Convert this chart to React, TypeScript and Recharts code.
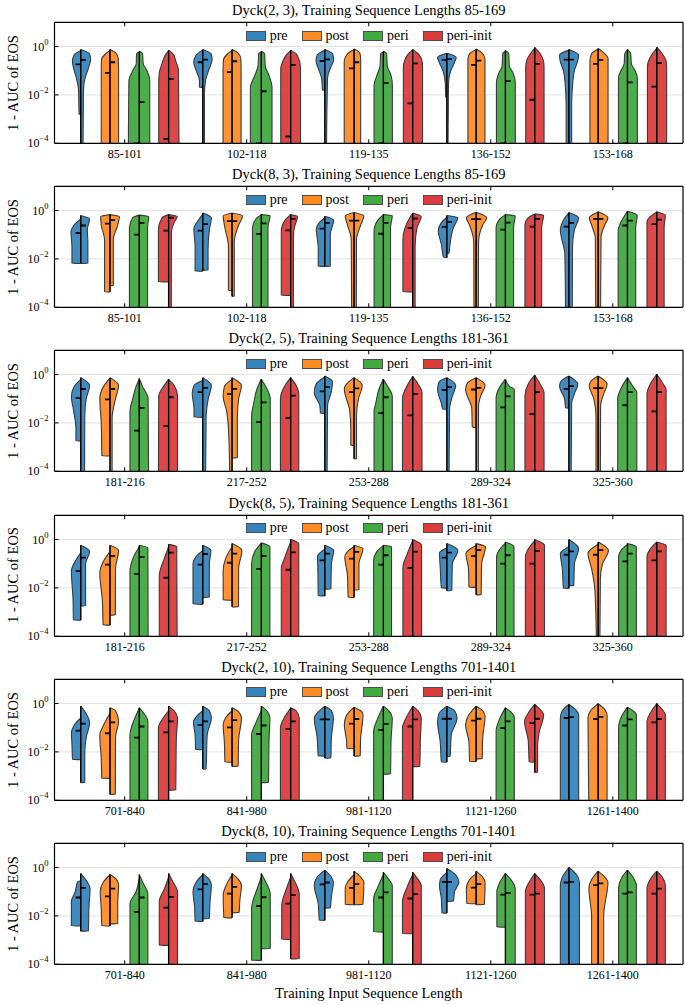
import React from "react";
import { ComposedChart, Area, Line, Scatter, XAxis, YAxis, CartesianGrid } from "recharts";

const methods = ["pre", "post", "peri", "peri-init"];
const methodColors = ["#1f77b4", "#ff7f0e", "#2ca02c", "#d62728"];

const lengths3 = ["85-101", "102-118", "119-135", "136-152", "153-168"];
const lengths5 = ["181-216", "217-252", "253-288", "289-324", "325-360"];
const lengths10 = ["701-840", "841-980", "981-1120", "1121-1260", "1261-1400"];

const yTicks = [1e-4, 1e-2, 1];
const groupTicks = [0, 1, 2, 3, 4];

// half violins: [log10(1 - AUC), density (0-10)] pairs from top to bottom,
// ordered by length bucket, then pre / post / peri / peri-init
const dyck23Left = [
  [-0.17, 0, -0.35, 6, -0.6, 7.6, -0.9, 6.5, -1.3, 4, -1.8, 2, -2.8, 1.5],
  [-0.16, 0, -0.3, 4, -0.55, 7.8, -1, 8, -4.5, 8],
  [-0.23, 0, -0.3, 2.5, -0.7, 2.8, -1.0, 6, -1.4, 9.5, -4.5, 10],
  [-0.17, 0, -0.35, 3, -0.7, 6, -1.1, 8.5, -1.5, 9, -4.5, 9],
  [-0.15, 0, -0.35, 6, -0.65, 8.2, -1.0, 6, -1.4, 3, -1.68, 3],
  [-0.16, 0, -0.3, 4, -0.55, 7.8, -1, 8.2, -4.5, 8.2],
  [-0.23, 0, -0.3, 2.5, -0.8, 3, -1.2, 6, -1.7, 10, -4.5, 10],
  [-0.17, 0, -0.35, 4, -0.6, 7, -0.9, 9, -4.5, 9],
  [-0.15, 0, -0.35, 7, -0.6, 8, -0.9, 6, -1.3, 3, -1.8, 2],
  [-0.12, 0, -0.3, 6, -0.6, 9, -1.0, 9, -4.5, 9],
  [-0.23, 0, -0.3, 2.5, -0.8, 3, -1.2, 6, -1.6, 8.5, -4.5, 8.5],
  [-0.14, 0, -0.3, 4, -0.6, 7.5, -0.85, 8.5, -4.5, 8.5],
  [-0.28, 0, -0.45, 8.5, -0.65, 7, -1.0, 3.5, -1.5, 1.5, -2.1, 1],
  [-0.12, 0, -0.3, 6, -0.55, 7.5, -1, 7.5, -4.5, 7.5],
  [-0.2, 0, -0.3, 2.5, -0.8, 3, -1.1, 6, -1.5, 8.2, -4.5, 8.2],
  [-0.08, 0, -0.3, 4, -0.6, 7.5, -0.85, 8.2, -4.5, 8.2],
  [-0.15, 0, -0.35, 8.5, -0.6, 8, -1.0, 5, -1.5, 3.5, -2.5, 2.5, -4.5, 2.5],
  [-0.1, 0, -0.3, 6, -0.6, 7.5, -1, 7.5, -4.5, 7.5],
  [-0.15, 0, -0.3, 2.5, -0.7, 3, -1.0, 6, -1.3, 8.2, -4.5, 8.2],
  [-0.06, 0, -0.3, 4, -0.6, 7.5, -0.85, 8.5, -4.5, 8.5],
];
const dyck23Right = [
  [-0.12, 0, -0.3, 8, -0.55, 9, -0.9, 7, -1.3, 4, -1.8, 2.5, -4.5, 2],
  [-0.12, 0, -0.25, 5, -0.5, 7.5, -1, 7.8, -4.5, 7.8],
  [-0.2, 0, -0.3, 3, -0.7, 3.5, -1.0, 7, -1.4, 9.5, -4.5, 9.5],
  [-0.15, 0, -0.3, 4, -0.6, 6.5, -1.0, 9, -4.5, 9.5],
  [-0.12, 0, -0.3, 7.5, -0.55, 8.5, -0.9, 6, -1.4, 2.5, -2, 1.5, -4.5, 1.5],
  [-0.12, 0, -0.25, 5, -0.5, 8, -1, 8.2, -4.5, 8.2],
  [-0.2, 0, -0.3, 3, -0.8, 3.5, -1.2, 7, -1.7, 9.7, -4.5, 9.7],
  [-0.15, 0, -0.3, 5, -0.6, 8, -0.9, 9, -4.5, 9],
  [-0.12, 0, -0.3, 7, -0.55, 8, -0.9, 5, -1.3, 2.5, -4.5, 1.5],
  [-0.1, 0, -0.25, 5, -0.5, 6, -1, 6, -4.5, 6],
  [-0.2, 0, -0.3, 3, -0.8, 3.5, -1.2, 7, -1.6, 8.2, -4.5, 8.2],
  [-0.12, 0, -0.3, 5, -0.6, 8.5, -0.85, 9, -4.5, 9],
  [-0.28, 0, -0.45, 8.5, -0.65, 7, -1.0, 3.5, -1.5, 1.5, -4.5, 1],
  [-0.1, 0, -0.25, 5, -0.5, 8, -1, 8, -4.5, 8],
  [-0.17, 0, -0.3, 3, -0.8, 3.5, -1.1, 7, -1.5, 9, -4.5, 9],
  [-0.04, 0, -0.3, 5, -0.6, 8, -0.85, 8.5, -4.5, 8.5],
  [-0.12, 0, -0.35, 8.8, -0.6, 8, -1.0, 5, -1.5, 3.5, -2.5, 2.5, -4.5, 2.5],
  [-0.08, 0, -0.25, 5, -0.5, 9, -1, 9, -4.5, 9],
  [-0.12, 0, -0.3, 3, -0.7, 3.5, -1.0, 7, -1.3, 9, -4.5, 9],
  [-0.03, 0, -0.3, 5, -0.6, 8.5, -0.85, 9, -4.5, 9],
];
const dyck23MedLeft = [-0.74, -1.09, -4.0, -3.82, -0.65, -1.06, -4.0, -3.72, -0.6, -0.9, -4.0, -2.35, -0.55, -0.76, -4.0, -2.2, -0.54, -0.72, -4.0, -1.66];
const dyck23MedRight = [-0.55, -0.65, -2.3, -1.34, -0.54, -0.61, -1.85, -0.76, -0.53, -0.65, -1.5, -0.7, -0.52, -0.58, -1.43, -0.72, -0.54, -0.55, -1.48, -0.69];

const dyck83Left = [
  [-0.35, 0, -0.6, 6, -0.9, 8.9, -1.5, 8, -2.18, 8],
  [-0.17, 0, -0.25, 8.5, -0.6, 8, -1.2, 5, -3.36, 5],
  [-0.19, 0, -0.3, 6, -0.7, 9, -4.5, 9],
  [-0.17, 0, -0.3, 6, -0.8, 9.3, -2.94, 9.3],
  [-0.15, 0, -0.4, 4, -0.75, 8.1, -1.5, 7, -2.5, 7],
  [-0.1, 0, -0.22, 8.1, -0.6, 7, -1.5, 3.3, -3.3, 3.3],
  [-0.17, 0, -0.35, 5, -0.7, 8.1, -4.5, 8.1],
  [-0.17, 0, -0.4, 5, -0.85, 8.5, -3.5, 8.5],
  [-0.3, 0, -0.5, 5, -0.8, 7.8, -1.5, 6, -2.3, 6],
  [-0.08, 0, -0.22, 8.1, -0.6, 6, -1.2, 2.6, -4.5, 2.2],
  [-0.17, 0, -0.4, 5, -0.85, 8.5, -4.5, 8.5],
  [-0.1, 0, -0.5, 5, -1.2, 8.9, -3.36, 8.9],
  [-0.28, 0, -0.5, 5, -0.85, 7.8, -1.4, 5, -1.94, 3],
  [-0.07, 0, -0.3, 8.9, -0.6, 6, -1.3, 2.2, -4.5, 2],
  [-0.17, 0, -0.35, 5, -0.72, 8.5, -4.5, 8.5],
  [-0.14, 0, -0.3, 6, -0.58, 8.9, -4.5, 8.9],
  [-0.1, 0, -0.4, 5, -0.8, 7.8, -1.8, 3.7, -4.5, 3],
  [-0.06, 0, -0.3, 8.1, -0.6, 6, -1.15, 2.6, -4.5, 2.2],
  [-0.03, 0, -0.4, 5, -0.85, 8.5, -4.5, 8.5],
  [-0.06, 0, -0.3, 7, -0.45, 8.9, -4.5, 8.9],
];
const dyck83Right = [
  [-0.21, 0, -0.35, 8, -0.8, 6, -1.3, 6.5, -2.18, 6.5],
  [-0.17, 0, -0.25, 8.5, -0.6, 7, -1.2, 3, -3.1, 3],
  [-0.19, 0, -0.25, 8.5, -0.7, 7.5, -4.5, 7.5],
  [-0.17, 0, -0.25, 7.8, -0.5, 5, -0.9, 2.6, -4.5, 2.4],
  [-0.1, 0, -0.3, 7.8, -0.8, 6, -1.6, 4.8, -2.46, 4.8],
  [-0.1, 0, -0.22, 9.6, -0.6, 6, -1.3, 2, -3.54, 2],
  [-0.17, 0, -0.22, 8, -0.7, 6, -4.5, 6],
  [-0.17, 0, -0.25, 6.3, -0.6, 4, -1.0, 2.6, -4.5, 2.5],
  [-0.24, 0, -0.4, 8.1, -1.0, 5, -2.3, 5],
  [-0.08, 0, -0.22, 8.9, -0.6, 6, -1.2, 2.2, -4.5, 2],
  [-0.17, 0, -0.22, 8.1, -0.7, 6.5, -4.5, 6.5],
  [-0.1, 0, -0.25, 7.8, -0.7, 4, -1.5, 2.2, -4.5, 2.2],
  [-0.21, 0, -0.3, 10, -0.7, 6, -1.5, 2.6, -1.76, 2],
  [-0.07, 0, -0.3, 9.6, -0.6, 6, -1.3, 2.2, -4.5, 2],
  [-0.17, 0, -0.22, 8.9, -0.7, 7.4, -4.5, 7.4],
  [-0.14, 0, -0.2, 8.1, -0.7, 6.3, -4.5, 6.3],
  [-0.08, 0, -0.3, 8.9, -0.8, 5, -1.5, 3.3, -4.5, 3],
  [-0.05, 0, -0.3, 8.9, -0.6, 6, -1.1, 2.6, -4.5, 2.2],
  [-0.03, 0, -0.2, 8.9, -0.7, 7.5, -4.5, 7.5],
  [-0.05, 0, -0.2, 7.8, -0.7, 6.7, -4.5, 6.7],
];
const dyck83MedLeft = [-0.93, -0.54, -1.0, -0.83, -0.83, -0.44, -0.97, -0.82, -0.75, -0.42, -0.96, -0.72, -0.68, -0.36, -0.79, -0.67, -0.67, -0.35, -0.62, -0.56];
const dyck83MedRight = [-0.62, -0.4, -0.51, -0.3, -0.56, -0.44, -0.53, -0.35, -0.51, -0.42, -0.51, -0.33, -0.47, -0.36, -0.5, -0.35, -0.51, -0.35, -0.42, -0.38];

const dyck25Left = [
  [-0.2, 0, -0.5, 6, -0.9, 8.5, -1.5, 6.5, -2.2, 4.4, -2.74, 4.4],
  [-0.15, 0, -0.5, 6, -1.0, 9.3, -2.0, 8, -3.36, 7.4],
  [-0.2, 0, -0.5, 3, -1.0, 6, -1.5, 8.5, -4.5, 8.5],
  [-0.2, 0, -0.45, 4, -0.9, 9, -4.5, 9.3],
  [-0.25, 0, -0.45, 8, -0.8, 9.6, -1.4, 8, -1.76, 8],
  [-0.2, 0, -0.5, 7, -0.9, 8.1, -1.5, 5, -2.5, 3, -4.5, 2],
  [-0.2, 0, -0.6, 4, -1.2, 7, -1.7, 8.9, -4.5, 8.9],
  [-0.13, 0, -0.45, 5, -1.0, 9.3, -4.5, 9.3],
  [-0.1, 0, -0.4, 8, -0.75, 9.6, -1.3, 4.5, -1.6, 4],
  [-0.13, 0, -0.4, 7, -0.6, 8.9, -1.5, 4, -2.3, 3, -2.92, 3],
  [-0.2, 0, -0.6, 4, -1.2, 7, -1.5, 8.5, -4.5, 8.5],
  [-0.08, 0, -0.45, 5, -1.0, 9.3, -4.5, 9.3],
  [-0.13, 0, -0.3, 7, -0.62, 8.5, -1.2, 5, -1.43, 3.7],
  [-0.13, 0, -0.35, 8, -0.62, 9.6, -1.4, 4, -2.18, 3.5],
  [-0.2, 0, -0.5, 5, -1.0, 8.5, -4.5, 8.5],
  [-0.03, 0, -0.4, 6, -0.9, 8.9, -4.5, 8.9],
  [-0.06, 0, -0.3, 7.5, -0.48, 8.5, -1.0, 4, -1.38, 3],
  [-0.06, 0, -0.3, 7, -0.48, 8.1, -1.0, 4, -1.75, 2, -4.5, 2],
  [-0.13, 0, -0.5, 5, -1.0, 8.9, -4.5, 8.9],
  [0.01, 0, -0.4, 6, -0.8, 8.9, -4.5, 8.9],
];
const dyck25Right = [
  [-0.13, 0, -0.45, 8.1, -1.0, 5, -1.7, 3.7, -4.5, 3.5],
  [-0.13, 0, -0.45, 7.8, -1.0, 5, -1.8, 1.9, -4.5, 1.9],
  [-0.17, 0, -0.5, 3, -1.0, 8, -4.5, 8.5],
  [-0.2, 0, -0.45, 5, -0.9, 8.1, -4.5, 8.1],
  [-0.13, 0, -0.45, 7.8, -1.0, 5, -1.8, 3, -4.5, 2.5],
  [-0.13, 0, -0.45, 8.5, -1.0, 6, -1.8, 4.8, -3.44, 4.8],
  [-0.2, 0, -0.5, 4, -1.0, 8.1, -4.5, 8.1],
  [-0.13, 0, -0.45, 5, -0.8, 7.4, -4.5, 7.4],
  [-0.06, 0, -0.3, 7, -0.7, 6, -1.3, 2.5, -4.5, 2],
  [-0.13, 0, -0.45, 7.4, -1.0, 4, -1.7, 2.2, -3.48, 2.2],
  [-0.2, 0, -0.5, 4, -0.9, 8.1, -4.5, 8.1],
  [-0.08, 0, -0.4, 5, -0.75, 8.5, -4.5, 8.5],
  [-0.13, 0, -0.45, 8.1, -0.9, 5, -1.4, 2.5, -4.5, 2],
  [-0.13, 0, -0.45, 8.1, -0.9, 4, -1.3, 2.2, -4.5, 2],
  [-0.2, 0, -0.5, 4, -0.62, 8.1, -4.5, 8.1],
  [-0.03, 0, -0.4, 5, -0.75, 8.5, -4.5, 8.5],
  [-0.06, 0, -0.4, 8.1, -0.8, 5, -1.2, 2.5, -4.5, 2],
  [-0.06, 0, -0.4, 8.1, -0.8, 5, -1.3, 2.2, -4.5, 2],
  [-0.13, 0, -0.5, 5, -0.75, 8.5, -4.5, 8.5],
  [0.01, 0, -0.4, 6, -0.62, 8.5, -4.5, 8.5],
];
const dyck25MedLeft = [-0.98, -1.03, -2.32, -2.13, -0.73, -0.81, -1.97, -1.8, -0.7, -0.73, -1.6, -1.69, -0.64, -0.62, -1.36, -1.64, -0.59, -0.56, -1.27, -1.52];
const dyck25MedRight = [-0.6, -0.6, -1.38, -0.94, -0.55, -0.59, -1.15, -0.87, -0.52, -0.57, -0.94, -0.8, -0.52, -0.55, -0.9, -0.73, -0.48, -0.56, -0.73, -0.73];

const dyck85Left = [
  [-0.55, 0, -0.9, 5, -1.3, 8.5, -2.5, 7, -3.33, 6.7],
  [-0.5, 0, -0.9, 6, -1.4, 9.3, -2.5, 7, -3.53, 6.3],
  [-0.3, 0, -0.7, 5, -1.3, 8.5, -4.5, 8.5],
  [-0.3, 0, -0.8, 4, -1.5, 8.5, -4.5, 8.5],
  [-0.45, 0, -0.7, 6, -1.0, 8.9, -2.67, 8.9],
  [-0.3, 0, -0.8, 6, -1.3, 8.1, -2.5, 8.1],
  [-0.15, 0, -0.5, 6, -1.0, 8.9, -4.5, 8.9],
  [-0.1, 0, -0.7, 5, -1.2, 8.5, -4.5, 8.5],
  [-0.4, 0, -0.7, 6.7, -1.3, 6.3, -2.32, 6],
  [-0.3, 0, -0.5, 6, -0.72, 8.5, -1.5, 6, -2.39, 5.5],
  [-0.25, 0, -0.5, 6, -0.86, 8.9, -4.5, 8.9],
  [-0.05, 0, -0.6, 5, -1.15, 8.9, -4.5, 8.9],
  [-0.35, 0, -0.55, 6.7, -1.2, 6, -2.0, 5],
  [-0.25, 0, -0.58, 9.3, -1.2, 7, -1.97, 6.5],
  [-0.15, 0, -0.4, 5, -0.72, 8.1, -4.5, 8.1],
  [-0.05, 0, -0.4, 6, -0.72, 8.5, -4.5, 8.5],
  [-0.3, 0, -0.58, 7.8, -1.2, 6, -2.01, 5],
  [-0.2, 0, -0.58, 9.3, -1.2, 6, -2.1, 3, -4.5, 1.5],
  [-0.2, 0, -0.4, 5, -0.72, 8.1, -4.5, 8.1],
  [-0.1, 0, -0.4, 6, -0.72, 8.9, -4.5, 8.9],
];
const dyck85Right = [
  [-0.24, 0, -0.5, 8.1, -1.0, 4.4, -2.74, 4.4],
  [-0.24, 0, -0.45, 7.8, -1.2, 5, -3.12, 4.8],
  [-0.24, 0, -0.35, 7.8, -4.5, 8],
  [-0.2, 0, -0.3, 7.4, -4.5, 7.8],
  [-0.24, 0, -0.45, 7.4, -1.0, 6, -2.39, 5.9],
  [-0.17, 0, -0.45, 8.9, -1.2, 6, -2.78, 5.9],
  [-0.14, 0, -0.3, 7.8, -4.5, 7.8],
  [0, 0, -0.17, 7.4, -4.5, 7.4],
  [-0.24, 0, -0.45, 8.1, -1.0, 6, -2.04, 5.5],
  [-0.24, 0, -0.38, 8.1, -1.0, 4.4, -2.08, 4.4],
  [-0.24, 0, -0.3, 7.4, -4.5, 7.4],
  [0, 0, -0.24, 8.1, -4.5, 8.1],
  [-0.17, 0, -0.45, 10, -1.0, 5, -2.11, 4.5],
  [-0.17, 0, -0.3, 8.5, -1.0, 5, -2.28, 4.5],
  [-0.1, 0, -0.3, 7.8, -4.5, 7.8],
  [0, 0, -0.24, 8.9, -4.5, 8.9],
  [0, 0, -0.38, 8.9, -1.0, 5, -1.9, 4.5],
  [-0.1, 0, -0.45, 9.3, -1.0, 4, -1.6, 2, -4.5, 1.5],
  [-0.17, 0, -0.3, 8.1, -4.5, 8.1],
  [-0.1, 0, -0.24, 8.5, -4.5, 8.5],
];
const dyck85MedLeft = [-1.31, -1.04, -1.42, -1.58, -1.04, -0.96, -1.21, -1.25, -0.86, -0.79, -1.04, -1.17, -0.75, -0.69, -1.0, -1.0, -0.63, -0.63, -0.9, -0.86];
const dyck85MedRight = [-0.75, -0.68, -0.72, -0.54, -0.6, -0.58, -0.68, -0.53, -0.58, -0.51, -0.65, -0.5, -0.54, -0.44, -0.65, -0.47, -0.49, -0.44, -0.58, -0.49];

const dyck210Left = [
  [-0.6, 0, -0.9, 6, -1.2, 8.5, -1.7, 8, -2.31, 7.5],
  [-0.4, 0, -0.9, 6, -1.3, 9.3, -2.3, 8, -3.09, 7.5],
  [-0.2, 0, -0.6, 4, -1.3, 8.5, -4.5, 8.5],
  [-0.3, 0, -0.6, 5, -1.0, 9.3, -4.5, 9.3],
  [-0.3, 0, -0.55, 6, -0.75, 8.5, -1.3, 7, -1.9, 6.5],
  [-0.3, 0, -0.6, 6, -0.88, 8.1, -1.6, 7, -2.42, 6.5],
  [-0.3, 0, -0.8, 5, -1.3, 8.9, -4.5, 8.9],
  [-0.2, 0, -0.6, 6, -1.0, 9.3, -4.5, 9.3],
  [-0.11, 0, -0.4, 7, -0.6, 9.6, -1.4, 7, -2.17, 6],
  [-0.15, 0, -0.5, 7, -0.88, 8.9, -1.5, 7, -1.86, 6.5],
  [-0.11, 0, -0.6, 5, -1.15, 8.9, -4.5, 8.9],
  [-0.11, 0, -0.6, 6, -1.0, 9.3, -4.5, 9.3],
  [-0.11, 0, -0.4, 7, -0.74, 8.5, -1.6, 6, -2.42, 5],
  [-0.11, 0, -0.5, 7, -0.88, 9.6, -1.6, 6.5, -2.39, 6],
  [-0.18, 0, -0.6, 5, -1.15, 8.5, -4.5, 8.5],
  [-0.04, 0, -0.4, 6, -0.74, 9.3, -1.5, 6, -2.42, 5],
  [-0.04, 0, -0.3, 6, -0.6, 7.8, -4.5, 7.8],
  [-0.01, 0, -0.3, 7, -0.6, 9.3, -4.5, 8.5],
  [-0.15, 0, -0.5, 5, -1.02, 8.1, -4.5, 8.1],
  [0, 0, -0.4, 6, -0.74, 8.9, -4.5, 8.9],
];
const dyck210Right = [
  [-0.11, 0, -0.35, 4, -0.8, 8.1, -1.4, 5, -2.0, 3.7, -3.26, 3.7],
  [-0.18, 0, -0.3, 5, -0.74, 7.8, -1.4, 5, -3.75, 4.8],
  [-0.18, 0, -0.4, 4, -0.74, 7.8, -4.5, 7.8],
  [-0.11, 0, -0.3, 5, -0.6, 8.1, -1.5, 7, -3.57, 6.5],
  [-0.11, 0, -0.3, 6, -0.6, 7.8, -1.3, 4, -2.7, 3],
  [-0.18, 0, -0.35, 6, -0.6, 8.5, -1.5, 6, -2.59, 5.5],
  [-0.11, 0, -0.3, 5, -0.6, 7.8, -1.5, 7, -3.26, 6.5],
  [-0.18, 0, -0.3, 5, -0.6, 7.8, -4.5, 7.8],
  [-0.11, 0, -0.3, 6, -0.6, 7.8, -1.4, 6, -2.25, 5.5],
  [-0.15, 0, -0.3, 6, -0.46, 8.1, -1.4, 6, -2.17, 5.5],
  [-0.11, 0, -0.3, 5, -0.6, 8.1, -1.5, 7, -2.91, 6.5],
  [-0.11, 0, -0.3, 5, -0.6, 7.8, -1.5, 7, -2.6, 6.5],
  [-0.11, 0, -0.3, 7, -0.6, 9.3, -1.3, 4, -2.18, 3],
  [-0.11, 0, -0.3, 6, -0.53, 8.1, -1.4, 6, -2.28, 5.5],
  [-0.18, 0, -0.35, 5, -0.6, 8.1, -4.5, 8.1],
  [-0.04, 0, -0.3, 6, -0.46, 8.1, -1.2, 4, -1.8, 2.6, -2.84, 2.6],
  [-0.04, 0, -0.25, 6, -0.46, 8.9, -4.5, 8.9],
  [-0.01, 0, -0.25, 6, -0.46, 8.1, -4.5, 8.1],
  [-0.15, 0, -0.3, 5, -0.46, 8.1, -4.5, 8.1],
  [0, 0, -0.25, 5, -0.46, 7.8, -4.5, 7.8],
];
const dyck210MedLeft = [-1.12, -1.23, -1.41, -1.19, -0.88, -0.99, -1.26, -1.06, -0.66, -0.83, -1.09, -0.95, -0.63, -0.71, -1.02, -0.81, -0.6, -0.64, -0.91, -0.78];
const dyck210MedRight = [-0.83, -0.78, -0.95, -0.74, -0.74, -0.69, -0.91, -0.74, -0.66, -0.64, -0.84, -0.66, -0.63, -0.63, -0.74, -0.63, -0.56, -0.55, -0.66, -0.64];

const dyck810Left = [
  [-0.55, 0, -0.6, 3, -1.0, 5, -1.4, 8.5, -2.41, 8.5],
  [-0.3, 0, -0.6, 6, -1.0, 8.9, -1.7, 8, -2.41, 7.5],
  [-0.45, 0, -1.0, 3, -1.5, 8.5, -4.5, 8.5],
  [-0.4, 0, -0.9, 4, -1.4, 8.5, -3.21, 8.5],
  [-0.3, 0, -0.6, 6, -1.0, 8.9, -1.6, 7.5, -2.22, 7],
  [-0.3, 0, -0.7, 5, -1.15, 8.1, -2.07, 7.5],
  [-0.4, 0, -0.9, 4, -1.7, 8.9, -3.83, 8.9],
  [-0.4, 0, -0.9, 4, -1.56, 8.1, -2.97, 8.1],
  [-0.11, 0, -0.4, 7, -0.73, 9.6, -1.5, 6, -2.18, 5],
  [-0.3, 0, -0.6, 6, -0.87, 8.1, -1.53, 8],
  [-0.3, 0, -0.8, 5, -1.28, 8.9, -2.66, 8.9],
  [-0.3, 0, -0.8, 5, -1.42, 9.3, -2.73, 9.3],
  [-0.2, 0, -0.5, 6, -0.73, 6.7, -1.3, 5, -1.88, 4.5],
  [-0.25, 0, -0.5, 6, -0.87, 8.9, -1.49, 8.5],
  [-0.25, 0, -0.6, 5, -1.0, 7.8, -2.46, 7.8],
  [-0.25, 0, -0.6, 5, -1.0, 8.5, -4.5, 8.5],
  [0, 0, -0.4, 6, -0.73, 7.8, -4.5, 7.8],
  [-0.15, 0, -0.5, 6, -0.87, 8.5, -2, 6, -4.5, 6],
  [-0.11, 0, -0.4, 5, -0.87, 8.1, -4.5, 8.1],
  [-0.15, 0, -0.5, 6, -0.87, 8.9, -4.5, 8.9],
];
const dyck810Right = [
  [-0.25, 0, -0.6, 6, -0.87, 8.5, -1.6, 7.5, -2.62, 7],
  [-0.29, 0, -0.5, 6, -0.73, 7.8, -1.5, 7, -2.32, 7],
  [-0.29, 0, -0.6, 3, -1.1, 7.8, -4.5, 7.8],
  [-0.25, 0, -0.6, 4, -1.0, 8.1, -4.5, 8.1],
  [-0.25, 0, -0.5, 6, -0.73, 7.8, -1.5, 6.5, -2.11, 6],
  [-0.25, 0, -0.5, 6, -0.73, 8.5, -1.4, 7, -1.86, 6.5],
  [-0.25, 0, -0.6, 4, -1.1, 8.1, -3.35, 8.1],
  [-0.25, 0, -0.6, 4, -1.1, 7.8, -3.77, 7.8],
  [-0.11, 0, -0.4, 6, -0.6, 7.8, -1.2, 6, -1.67, 5],
  [-0.15, 0, -0.4, 6, -0.6, 8.9, -1.53, 8],
  [-0.2, 0, -0.5, 5, -0.73, 8.1, -4.5, 8.1],
  [-0.2, 0, -0.5, 5, -0.73, 7.8, -4.5, 7.8],
  [-0.04, 0, -0.3, 8, -0.6, 11, -1.0, 7, -1.39, 6],
  [-0.15, 0, -0.4, 6, -0.6, 8.1, -1.53, 7.5],
  [-0.25, 0, -0.5, 5, -0.87, 8.9, -4.5, 8.9],
  [-0.25, 0, -0.5, 5, -0.87, 8.9, -4.5, 8.9],
  [0, 0, -0.3, 7, -0.6, 9.6, -4.5, 9.6],
  [-0.15, 0, -0.4, 6, -0.6, 8.9, -2, 5, -4.5, 5],
  [-0.11, 0, -0.4, 5, -0.73, 8.1, -4.5, 8.1],
  [-0.15, 0, -0.4, 5, -0.73, 7.8, -4.5, 7.8],
];
const dyck810MedLeft = [-1.24, -1.19, -1.83, -1.66, -0.9, -1.08, -1.59, -1.49, -0.7, -0.84, -1.24, -1.28, -0.59, -0.83, -1.12, -1.12, -0.62, -0.73, -1.08, -1.08];
const dyck810MedRight = [-0.84, -0.87, -1.24, -1.21, -0.69, -0.8, -1.23, -1.14, -0.62, -0.69, -1.03, -1.1, -0.59, -0.69, -1.05, -1.08, -0.59, -0.66, -1.03, -0.87];

const panels = [
  { title: "Dyck(2, 3), Training Sequence Lengths 85-169", labels: lengths3, left: dyck23Left, right: dyck23Right, medL: dyck23MedLeft, medR: dyck23MedRight },
  { title: "Dyck(8, 3), Training Sequence Lengths 85-169", labels: lengths3, left: dyck83Left, right: dyck83Right, medL: dyck83MedLeft, medR: dyck83MedRight },
  { title: "Dyck(2, 5), Training Sequence Lengths 181-361", labels: lengths5, left: dyck25Left, right: dyck25Right, medL: dyck25MedLeft, medR: dyck25MedRight },
  { title: "Dyck(8, 5), Training Sequence Lengths 181-361", labels: lengths5, left: dyck85Left, right: dyck85Right, medL: dyck85MedLeft, medR: dyck85MedRight },
  { title: "Dyck(2, 10), Training Sequence Lengths 701-1401", labels: lengths10, left: dyck210Left, right: dyck210Right, medL: dyck210MedLeft, medR: dyck210MedRight },
  { title: "Dyck(8, 10), Training Sequence Lengths 701-1401", labels: lengths10, left: dyck810Left, right: dyck810Right, medL: dyck810MedLeft, medR: dyck810MedRight },
];

const FONT = "'Liberation Serif', 'Times New Roman', serif";
const PANEL_STEP = 164.2;
const CHART_H = 164;
const SPREAD = 0.009; // x units per density step
const OFFSETS = [-0.36, -0.12, 0.12, 0.36];

function halfViolin(profile, c, side) {
  const pts = [];
  for (let i = 0; i < profile.length; i += 2) {
    const w = profile[i + 1] * SPREAD;
    pts.push({ y: Math.pow(10, profile[i]), x: side < 0 ? [c - w, c] : [c, c + w] });
  }
  const last = profile[profile.length - 2];
  if (last > -4.4) pts.push({ y: Math.pow(10, last - 0.01), x: [c, c] });
  return pts;
}

const YTick = (props) => {
  const { x, y, payload } = props;
  const e = Math.round(Math.log10(payload.value));
  return (
    <text x={x} y={y + 4} textAnchor="end" fontFamily={FONT} fontSize={12} fill="#000">
      10<tspan dy={-6} fontSize={8.5}>{e < 0 ? "\u2212" + -e : String(e)}</tspan>
    </text>
  );
};

const MedianMark = (props) => (
  <line x1={props.cx - 2.6} x2={props.cx + 2.6} y1={props.cy} y2={props.cy} stroke="#000" strokeWidth={1.8} />
);

function Panel({ cfg, idx }) {
  const areas = [];
  const stems = [];
  const medians = [];
  cfg.left.forEach((lp, k) => {
    const rp = cfg.right[k];
    const g = Math.floor(k / 4);
    const m = k % 4;
    const c = g + OFFSETS[m];
    const color = methodColors[m];
    areas.push(
      <Area key={`l${k}`} data={halfViolin(lp, c, -1)} dataKey="x" type="monotone" fill={color} fillOpacity={0.85}
        stroke="#3a3a3a" strokeWidth={1.1} isAnimationActive={false} dot={false} activeDot={false} />,
      <Area key={`r${k}`} data={halfViolin(rp, c, 1)} dataKey="x" type="monotone" fill={color} fillOpacity={0.85}
        stroke="#3a3a3a" strokeWidth={1.1} isAnimationActive={false} dot={false} activeDot={false} />
    );
    const top = Math.max(lp[0], rp[0]);
    const bottom = Math.min(lp[lp.length - 2], rp[rp.length - 2]);
    stems.push(
      <Line key={`s${k}`} data={[{ x: c, y: Math.pow(10, top) }, { x: c, y: Math.pow(10, bottom) }]} dataKey="x"
        stroke="#000" strokeWidth={1.3} dot={false} activeDot={false} isAnimationActive={false} />
    );
    medians.push({ x: c - 0.021, y: Math.pow(10, cfg.medL[k]) }, { x: c + 0.021, y: Math.pow(10, cfg.medR[k]) });
  });

  const last = idx === panels.length - 1;
  return (
    <div style={{ position: "absolute", left: 0, top: idx * PANEL_STEP, width: 685, height: CHART_H }}>
      <div style={{ position: "absolute", left: 54.5, width: 628.5, top: 0, height: 20, lineHeight: "20px", textAlign: "center", fontFamily: FONT, fontSize: 14.5, whiteSpace: "nowrap" }}>
        {cfg.title}
      </div>
      <div style={{ position: "absolute", left: 13, top: 82.8, transform: "translate(-50%, -50%) rotate(-90deg)", fontFamily: FONT, fontSize: 14.5, whiteSpace: "nowrap" }}>
        1 - AUC of EOS
      </div>
      <ComposedChart width={685} height={CHART_H} layout="vertical" margin={{ top: 21.3, bottom: 19.7, left: 53.5, right: 1 }}>
        <CartesianGrid vertical={false} stroke="#e4e4e4" strokeWidth={1} />
        <XAxis type="number" dataKey="x" domain={[-0.575, 4.575]} ticks={groupTicks} allowDataOverflow height={1}
          tickFormatter={(v) => cfg.labels[v]} tickSize={-4} tickMargin={10.5} axisLine={{ stroke: "#000", strokeWidth: 1.2 }}
          tickLine={{ stroke: "#000" }} tick={{ fontFamily: FONT, fontSize: 12, fill: "#000" }} interval={0} />
        <XAxis xAxisId="top" orientation="top" type="number" domain={[-0.575, 4.575]} ticks={groupTicks} allowDataOverflow height={1}
          tickSize={-4} axisLine={{ stroke: "#000", strokeWidth: 1.2 }} tickLine={{ stroke: "#000" }} tick={() => <g />} interval={0} />
        <YAxis type="number" dataKey="y" scale="log" domain={[1e-4, 10]} ticks={yTicks} allowDataOverflow reversed width={1}
          tickSize={-4} tickMargin={10} axisLine={{ stroke: "#000", strokeWidth: 1.2 }} tickLine={{ stroke: "#000" }} tick={YTick} interval={0} />
        <YAxis yAxisId="right" orientation="right" type="number" scale="log" domain={[1e-4, 10]} ticks={yTicks} allowDataOverflow reversed width={1}
          tickSize={-4} axisLine={{ stroke: "#000", strokeWidth: 1.2 }} tickLine={{ stroke: "#000" }} tick={() => <g />} interval={0} />
        {areas}
        {stems}
        <Scatter data={medians} shape={MedianMark} isAnimationActive={false} />
      </ComposedChart>
      <div style={{ position: "absolute", left: 245.7, top: 30.7, display: "flex", alignItems: "center", gap: 14, fontFamily: FONT, fontSize: 14 }}>
        {methods.map((name, m) => (
          <div key={name} style={{ display: "flex", alignItems: "center" }}>
            <div style={{ width: 20, height: 10, boxSizing: "border-box", border: "1.2px solid #3a3a3a", background: methodColors[m], opacity: 0.9, marginRight: 4 }} />
            <span style={{ lineHeight: "10px" }}>{name}</span>
          </div>
        ))}
      </div>
      {last && (
        <div style={{ position: "absolute", left: 54.5, width: 628.5, top: 162, height: 20, lineHeight: "20px", textAlign: "center", fontFamily: FONT, fontSize: 14.5, whiteSpace: "nowrap" }}>
          Training Input Sequence Length
        </div>
      )}
    </div>
  );
}

export default function App() {
  return (
    <div style={{ position: "absolute", left: 0, top: 0, width: 685, height: 1005, background: "#fff", overflow: "hidden" }}>
      {panels.map((cfg, i) => (
        <Panel key={i} cfg={cfg} idx={i} />
      ))}
    </div>
  );
}
